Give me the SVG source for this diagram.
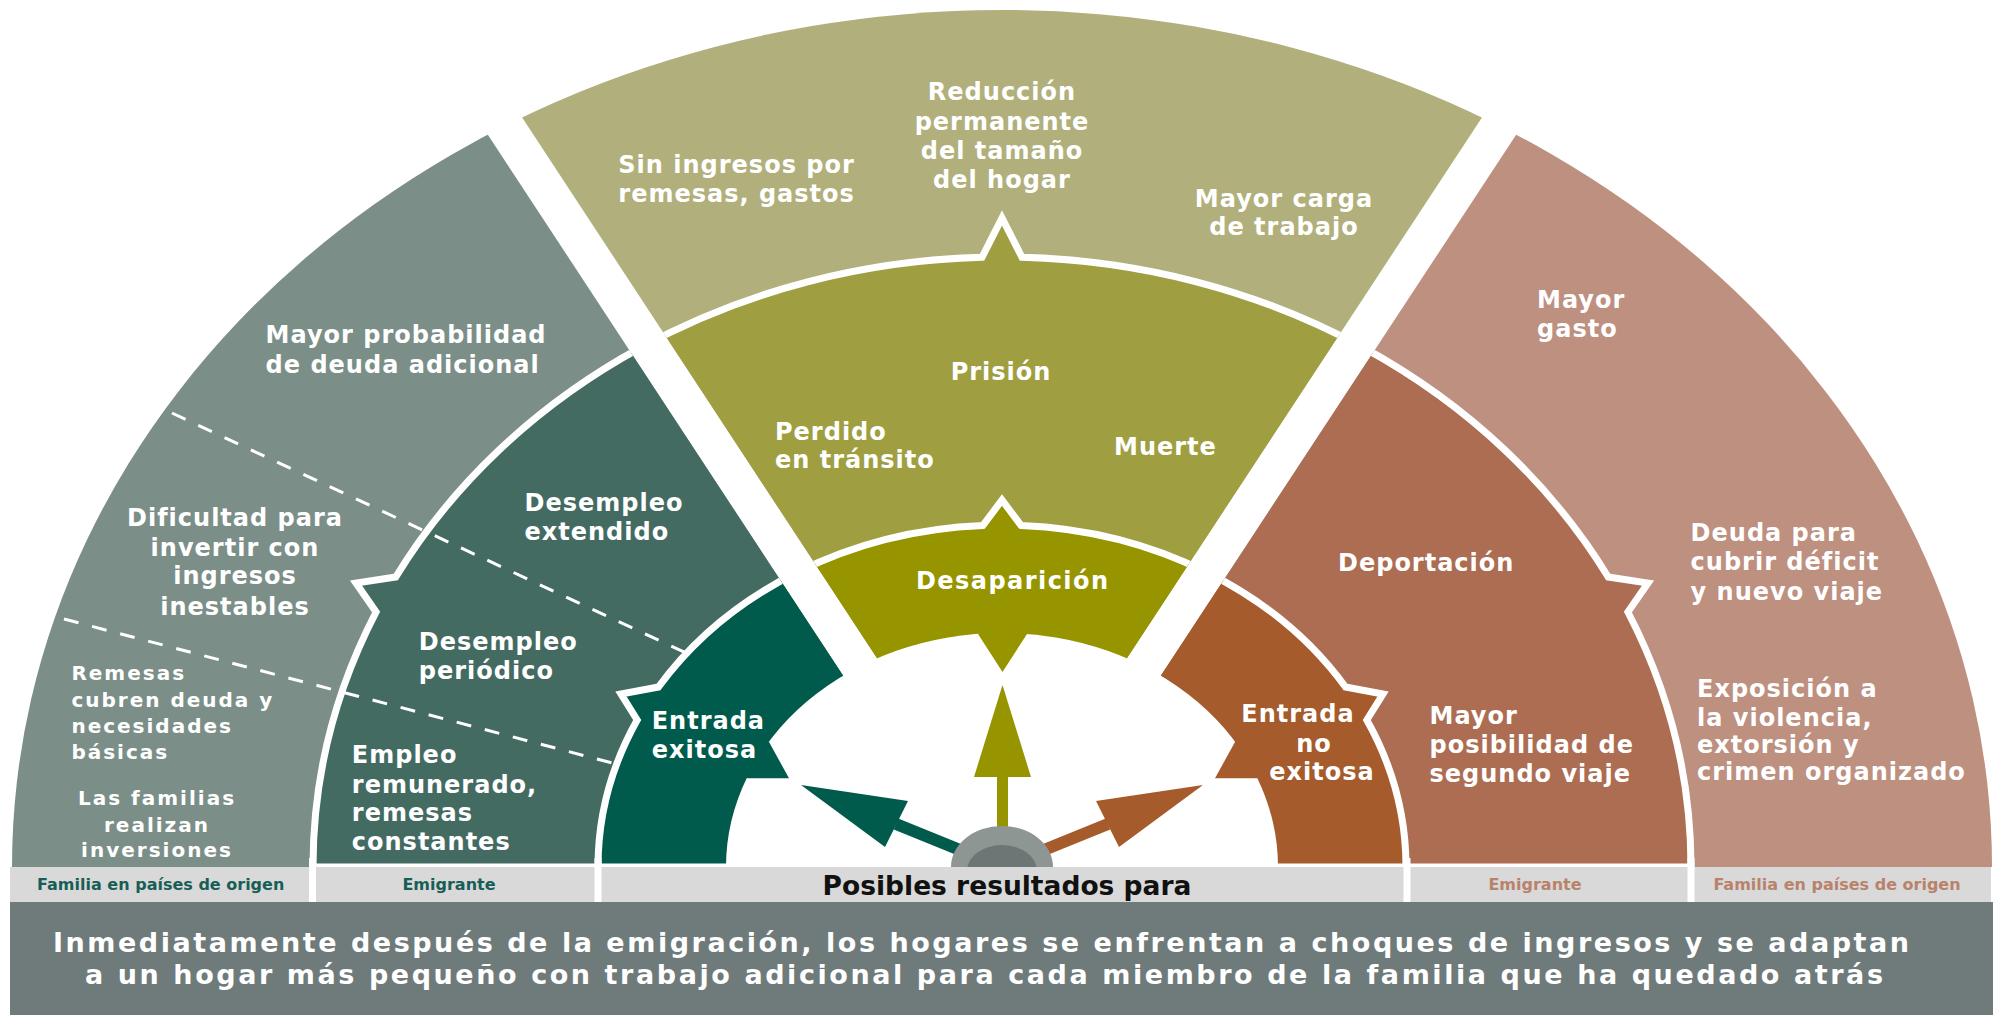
<svg xmlns="http://www.w3.org/2000/svg" width="2006" height="1015" viewBox="0 0 2006 1015">
<defs>
<style>
.t{font-family:"DejaVu Sans",Verdana,sans-serif;font-weight:bold;font-size:24px;fill:#fff;letter-spacing:1px}
.s{font-size:20px;letter-spacing:2px}
.m{text-anchor:middle}
.lab{font-size:16px;letter-spacing:0}
.ring{stroke:#fff;stroke-width:7}
.dash{stroke:#fff;stroke-width:3;stroke-dasharray:15 14;fill:none}
.sep{fill:#fff}
</style>
<clipPath id="cl"><polygon points="0,0 399.4,0 968.7,867 0,867"/></clipPath>
<clipPath id="cm"><polygon points="444.9,0 1559.1,0 1002,848.4"/></clipPath>
<clipPath id="cr"><polygon points="1604.6,0 2006,0 2006,867 1035.3,867"/></clipPath>
<ellipse id="outer" cx="1002" cy="867" rx="990" ry="857"/>
<path id="ringA" d="M313,867 A689,610 0 0 1 376.1,612 L356,583 L395.8,577 A689,610 0 0 1 982,257.3 L1002,218 L1022,257.3 A689,610 0 0 1 1608.2,577 L1648,583 L1627.9,612 A689,610 0 0 1 1691,867 Z"/>
<path id="ringB" d="M598,867 A404,342 0 0 1 637.2,720 L621,694 L658.5,687 A404,342 0 0 1 983,525.4 L1002,500 L1021,525.4 A404,342 0 0 1 1345.5,687 L1383,694 L1366.8,720 A404,342 0 0 1 1406,867 Z"/>
</defs>
<rect width="2006" height="1015" fill="#fff"/>

<g id="wedge-left" clip-path="url(#cl)">
<use href="#outer" fill="#7b8f88"/>
<use href="#ringA" fill="#446b62" class="ring"/>
<line class="dash" x1="172" y1="413" x2="686" y2="653"/>
<line class="dash" x1="64" y1="619" x2="616" y2="764"/>
<use href="#ringB" fill="#005b4c" class="ring"/>
</g>
<g id="wedge-middle" clip-path="url(#cm)">
<use href="#outer" fill="#b1b07c"/>
<use href="#ringA" fill="#9f9f42" class="ring"/>
<use href="#ringB" fill="#969500" class="ring"/>
</g>
<g id="wedge-right" clip-path="url(#cr)">
<use href="#outer" fill="#bd9080"/>
<use href="#ringA" fill="#ad6d52" class="ring"/>
<use href="#ringB" fill="#a55b2b" class="ring"/>
</g>

<g id="bowl">
<ellipse cx="1002" cy="867" rx="276" ry="234" fill="#fff"/>
<polygon points="768.9,741.7 789,778.3 746.6,778.3 740,750" fill="#005b4c"/>
<polygon points="1235.1,741.7 1215,778.3 1257.4,778.3 1264,750" fill="#a55b2b"/>
<polygon points="978,633.9 1002.5,672 1027,634 1002,620" fill="#969500"/>
</g>

<g id="connectors">
<line x1="896" y1="824" x2="965" y2="852" stroke="#005b4c" stroke-width="12"/>
<polygon points="801,785 908,801 885,847" fill="#005b4c"/>
<rect x="997" y="775" width="11" height="60" fill="#969500"/>
<polygon points="974,777 1002.5,685 1031,777" fill="#969500"/>
<line x1="1108" y1="824" x2="1039" y2="852" stroke="#a55b2b" stroke-width="12"/>
<polygon points="1203,785 1096,801 1119,847" fill="#a55b2b"/>
</g>

<g id="knob">
<ellipse cx="1002" cy="867" rx="51" ry="41" fill="#8e9694"/>
<ellipse cx="1002" cy="871" rx="35" ry="26" fill="#6c7674"/>
</g>

<g id="strip">
<rect x="10" y="867" width="1981" height="35" fill="#d9d9d9"/>
<rect class="sep" x="309" y="858" width="7" height="44"/>
<rect class="sep" x="594.5" y="858" width="7" height="44"/>
<rect class="sep" x="1403.5" y="858" width="7" height="44"/>
<rect class="sep" x="1687.5" y="858" width="7" height="44"/>
<text class="t lab m" x="160.7" y="890" style="fill:#185e57">Familia en países de origen</text>
<text class="t lab m" x="449" y="890" style="fill:#185e57">Emigrante</text>
<text class="t m" x="1007" y="894.5" style="fill:#111;font-size:26.5px;letter-spacing:0">Posibles resultados para</text>
<text class="t lab m" x="1535" y="890" style="fill:#b8826b">Emigrante</text>
<text class="t lab m" x="1837" y="890" style="fill:#b8826b">Familia en países de origen</text>
</g>

<g id="footer">
<rect x="10" y="902" width="1983" height="113" fill="#6f7b7a"/>
<text class="t m" x="981" y="952" style="font-size:27px;letter-spacing:0" textLength="1856" lengthAdjust="spacing">Inmediatamente después de la emigración, los hogares se enfrentan a choques de ingresos y se adaptan</text>
<text class="t m" x="984" y="984" style="font-size:27px;letter-spacing:0" textLength="1798" lengthAdjust="spacing">a un hogar más pequeño con trabajo adicional para cada miembro de la familia que ha quedado atrás</text>
</g>

<g id="text-left">
<text class="t" x="265.6" y="343">Mayor probabilidad</text>
<text class="t" x="265.6" y="373">de deuda adicional</text>
<text class="t m" x="235" y="526">Dificultad para</text>
<text class="t m" x="235" y="555.8">invertir con</text>
<text class="t m" x="235" y="584">ingresos</text>
<text class="t m" x="235" y="614.8">inestables</text>
<text class="t s" x="71.4" y="679.7">Remesas</text>
<text class="t s" x="71.4" y="707">cubren deuda y</text>
<text class="t s" x="71.4" y="732.6">necesidades</text>
<text class="t s" x="71.4" y="759">básicas</text>
<text class="t s m" x="157" y="804.5">Las familias</text>
<text class="t s m" x="157" y="831.5">realizan</text>
<text class="t s m" x="157" y="857">inversiones</text>
<text class="t" x="524.5" y="510.7">Desempleo</text>
<text class="t" x="524.5" y="539.7">extendido</text>
<text class="t" x="418.8" y="649.6">Desempleo</text>
<text class="t" x="418.8" y="678.6">periódico</text>
<text class="t" x="351.8" y="763.3">Empleo</text>
<text class="t" x="351.8" y="793.3">remunerado,</text>
<text class="t" x="351.8" y="821.3">remesas</text>
<text class="t" x="351.8" y="850.3">constantes</text>
<text class="t" x="651.7" y="729.3">Entrada</text>
<text class="t" x="651.7" y="758.3">exitosa</text>
</g>

<g id="text-middle">
<text class="t" x="618.3" y="173.3">Sin ingresos por</text>
<text class="t" x="618.3" y="201.7">remesas, gastos</text>
<text class="t m" x="1002" y="100">Reducción</text>
<text class="t m" x="1002" y="130">permanente</text>
<text class="t m" x="1002" y="159">del tamaño</text>
<text class="t m" x="1002" y="188">del hogar</text>
<text class="t m" x="1284" y="207">Mayor carga</text>
<text class="t m" x="1284" y="235">de trabajo</text>
<text class="t m" x="1001" y="380">Prisión</text>
<text class="t" x="775" y="440">Perdido</text>
<text class="t" x="775" y="468">en tránsito</text>
<text class="t" x="1114" y="455">Muerte</text>
<text class="t m" x="1012" y="589" style="letter-spacing:0" textLength="192" lengthAdjust="spacing">Desaparición</text>
</g>

<g id="text-right">
<text class="t" x="1537" y="308">Mayor</text>
<text class="t" x="1537" y="337">gasto</text>
<text class="t" x="1690.6" y="541.4">Deuda para</text>
<text class="t" x="1690.6" y="570.4">cubrir déficit</text>
<text class="t" x="1690.6" y="599.5">y nuevo viaje</text>
<text class="t" x="1697" y="696.7">Exposición a</text>
<text class="t" x="1697" y="725.7">la violencia,</text>
<text class="t" x="1697" y="753">extorsión y</text>
<text class="t" x="1697" y="780.3">crimen organizado</text>
<text class="t" x="1338" y="570.5">Deportación</text>
<text class="t" x="1429.5" y="724">Mayor</text>
<text class="t" x="1429.5" y="753">posibilidad de</text>
<text class="t" x="1429.5" y="782">segundo viaje</text>
<text class="t m" x="1298" y="721.7">Entrada</text>
<text class="t m" x="1314" y="751.7">no</text>
<text class="t m" x="1322" y="780">exitosa</text>
</g>
</svg>
